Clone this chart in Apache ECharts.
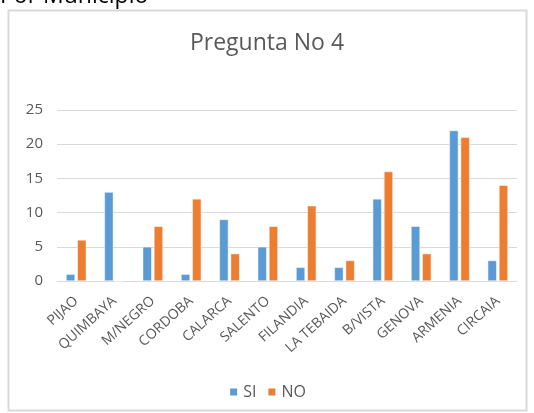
<!DOCTYPE html>
<html>
<head>
<meta charset="utf-8">
<script src="https://cdn.jsdelivr.net/npm/echarts@6/dist/echarts.min.js"></script>
<style>
  html, body { margin: 0; padding: 0; background: #fff; }
  #chart { width: 534px; height: 413px; }
</style>
</head>
<body>
<div id="chart"></div>
<script>
// Pregunta 4 por municipio
var municipios = ['PIJAO', 'QUIMBAYA', 'M/NEGRO', 'CORDOBA', 'CALARCA', 'SALENTO',
  'FILANDIA', 'LA TEBAIDA', 'B/VISTA', 'GENOVA', 'ARMENIA', 'CIRCAIA'];
var si = [1, 13, 5, 1, 9, 5, 2, 2, 12, 8, 22, 3];
var no = [6, 0, 8, 12, 4, 8, 11, 3, 16, 4, 21, 14];

var fuente = 'Open Sans, sans-serif';
var chart = echarts.init(document.getElementById('chart'));

var option = {
  animation: false,
  graphic: [
    { type: 'rect', shape: { x: 8.5, y: 10.5, width: 518, height: 400 },
      style: { fill: 'none', stroke: '#d9d9d9', lineWidth: 2 } },
    { type: 'text', left: 0, top: -15,
      style: { text: 'Por Municipio', fontSize: 23, fill: '#000', fontFamily: fuente } }
  ],
  title: {
    text: 'Pregunta No 4',
    left: 'center',
    top: 27,
    textStyle: { color: '#595959', fontSize: 23, fontWeight: 'normal', fontFamily: fuente }
  },
  legend: {
    bottom: 8,
    left: 'center',
    itemWidth: 9,
    itemHeight: 9,
    itemGap: 10,
    icon: 'rect',
    textStyle: { color: '#595959', fontSize: 16, fontFamily: fuente },
    data: ['SI', 'NO']
  },
  grid: { left: 57, right: 17, top: 110, bottom: 132 },
  xAxis: {
    type: 'category',
    data: municipios,
    axisLine: { lineStyle: { color: '#d9d9d9', width: 1 } },
    axisTick: { show: false },
    axisLabel: { rotate: 42, color: '#595959', fontSize: 14, fontFamily: fuente, margin: 18 }
  },
  yAxis: {
    type: 'value',
    min: 0,
    max: 25,
    interval: 5,
    axisLine: { show: false },
    axisTick: { show: false },
    splitLine: { lineStyle: { color: '#d9d9d9', width: 1 } },
    axisLabel: { color: '#595959', fontSize: 15, fontFamily: fuente, margin: 14 }
  },
  series: [
    { name: 'SI', type: 'bar', data: si, barWidth: 9, barGap: '25%',
      itemStyle: { color: '#5B9BD5', borderColor: '#fff', borderWidth: 0.5 } },
    { name: 'NO', type: 'bar', data: no, barWidth: 9,
      itemStyle: { color: '#ED7D31', borderColor: '#fff', borderWidth: 0.5 } }
  ]
};

chart.setOption(option);
</script>
</body>
</html>
